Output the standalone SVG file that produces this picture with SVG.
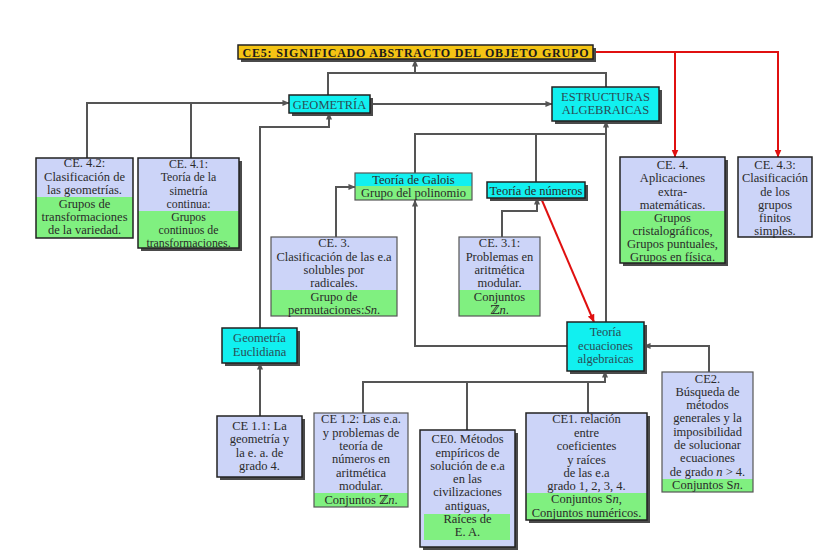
<svg xmlns="http://www.w3.org/2000/svg" width="831" height="554" viewBox="0 0 831 554">
<defs>
<style>
.bl{fill:#ccd4f8}
.gr{fill:#80f080}
.cy{fill:#11f0f0}
.go{fill:#f4c414}
.sh{fill:#4a4a4a}
.bd{fill:none;stroke:#222;stroke-width:1.5}
.bg{fill:none;stroke:#555;stroke-width:1.2}
.t{font-family:"Liberation Serif","DejaVu Serif",serif;font-size:12.5px;fill:#2a2a2a;text-anchor:middle}
.s{font-size:11.8px}
.tt{font-family:"Liberation Serif","DejaVu Serif",serif;font-size:12px;font-weight:bold;fill:#1a1a1a;text-anchor:middle}
.ct{fill:#2a4d55}
.k{fill:none;stroke:#555;stroke-width:2}
.r{fill:none;stroke:#e01010;stroke-width:2}
</style>
<marker id="ah" viewBox="0 0 8 8" refX="7.5" refY="4" markerWidth="7" markerHeight="7" markerUnits="userSpaceOnUse" orient="auto"><path d="M0,0.5 L8,4 L0,7.5 z" fill="#555"/></marker>
<marker id="ar" viewBox="0 0 8 8" refX="7.5" refY="4" markerWidth="8" markerHeight="8" markerUnits="userSpaceOnUse" orient="auto"><path d="M0,0.5 L8,4 L0,7.5 z" fill="#e01010"/></marker>
</defs>
<rect width="831" height="554" fill="#fff"/>

<g id="connectors">
<path class="k" d="M328,95 V73 H606 V87"/>
<path class="k" d="M415,73 V60" marker-end="url(#ah)"/>
<path class="k" d="M87,158 V103 H289" marker-end="url(#ah)"/>
<path class="k" d="M191,158 V103"/>
<path class="k" d="M370,104 H552" marker-end="url(#ah)"/>
<path class="k" d="M260,328 V127 H329 V113" marker-end="url(#ah)"/>
<path class="k" d="M260,416 V363" marker-end="url(#ah)"/>
<path class="k" d="M363,413 V382 H605 V371" marker-end="url(#ah)"/>
<path class="k" d="M467,430 V382"/>
<path class="k" d="M588,413 V382"/>
<path class="k" d="M567,346 H415 V200" marker-end="url(#ah)"/>
<path class="k" d="M709,372 V346 H644" marker-end="url(#ah)"/>
<path class="k" d="M606,322 V121" marker-end="url(#ah)"/>
<path class="k" d="M415,173 V134 H606"/>
<path class="k" d="M536,182 V134"/>
<path class="k" d="M336,237 V187 H355" marker-end="url(#ah)"/>
<path class="k" d="M502,237 V211 H537 V198" marker-end="url(#ah)"/>
<path class="r" d="M593,52 H778 V157" marker-end="url(#ar)"/>
<path class="r" d="M675,52 V157" marker-end="url(#ar)"/>
<path class="r" d="M541,198 L594,322" marker-end="url(#ar)"/>
</g>

<g id="ce5">
<rect class="sh" x="241" y="48" width="355" height="14"/>
<rect class="go" x="238" y="45" width="355" height="14"/>
<rect class="bd" x="238" y="45" width="355" height="14"/>
<text class="tt" x="415.5" y="56.5" textLength="346" lengthAdjust="spacing">CE5: SIGNIFICADO ABSTRACTO DEL OBJETO GRUPO</text>
</g>

<g id="geometria">
<rect class="sh" x="292" y="98" width="81" height="18"/>
<rect class="cy" x="289" y="95" width="81" height="18"/>
<rect class="bd" x="289" y="95" width="81" height="18"/>
<text class="t ct" x="329.5" y="108.5">GEOMETRÍA</text>
</g>

<g id="estructuras">
<rect class="sh" x="555" y="90" width="107" height="34"/>
<rect class="cy" x="552" y="87" width="107" height="34"/>
<rect class="bd" x="552" y="87" width="107" height="34"/>
<text class="t ct" x="605.5" y="100.5">ESTRUCTURAS</text>
<text class="t ct" x="605.5" y="113.5">ALGEBRAICAS</text>
</g>

<g id="ce42">
<rect class="bl" x="36" y="158" width="97" height="80"/>
<rect class="gr" x="36" y="197" width="97" height="41"/>
<rect class="bd" x="36" y="158" width="97" height="80"/>
<text class="t" x="84.5" y="167">CE. 4.2:</text>
<text class="t" x="84.5" y="180.5">Clasificación de</text>
<text class="t" x="84.5" y="194">las geometrías.</text>
<text class="t" x="84.5" y="207.5">Grupos de</text>
<text class="t" x="84.5" y="221">transformaciones</text>
<text class="t" x="84.5" y="234">de la variedad.</text>
</g>

<g id="ce41">
<rect class="sh" x="141" y="161" width="101" height="90"/>
<rect class="bl" x="138" y="158" width="101" height="90"/>
<rect class="gr" x="138" y="211" width="101" height="37"/>
<rect class="bd" x="138" y="158" width="101" height="90"/>
<text class="t s" x="188.5" y="168">CE. 4.1:</text>
<text class="t s" x="188.5" y="181">Teoría de la</text>
<text class="t s" x="188.5" y="194.5">simetría</text>
<text class="t s" x="188.5" y="207.5">continua:</text>
<text class="t s" x="188.5" y="221">Grupos</text>
<text class="t s" x="188.5" y="234">continuos de</text>
<text class="t s" x="188.5" y="246.5">transformaciones.</text>
</g>

<g id="galois">
<rect class="cy" x="355" y="173" width="117" height="13"/>
<rect class="gr" x="355" y="186" width="117" height="14"/>
<rect class="bg" x="355" y="173" width="117" height="27"/>
<text class="t" x="413.5" y="183.5">Teoría de Galois</text>
<text class="t" x="413.5" y="197">Grupo del polinomio</text>
</g>

<g id="numeros">
<rect class="sh" x="490" y="185" width="98" height="16"/>
<rect class="cy" x="487" y="182" width="98" height="16"/>
<rect class="bd" x="487" y="182" width="98" height="16"/>
<text class="t" x="536" y="194.5">Teoría de números</text>
</g>

<g id="ce3">
<rect class="bl" x="271" y="237" width="126" height="79"/>
<rect class="gr" x="271" y="290" width="126" height="26"/>
<rect class="bg" x="271" y="237" width="126" height="79"/>
<text class="t" x="334" y="247">CE. 3.</text>
<text class="t" x="334" y="260.5">Clasificación de las e.a</text>
<text class="t" x="334" y="274">solubles por</text>
<text class="t" x="334" y="287">radicales.</text>
<text class="t" x="334" y="301">Grupo de</text>
<text class="t" x="334" y="314">permutaciones:<tspan font-style="italic">Sn</tspan>.</text>
</g>

<g id="ce31">
<rect class="bl" x="459" y="237" width="81" height="79"/>
<rect class="gr" x="459" y="290" width="81" height="26"/>
<rect class="bg" x="459" y="237" width="81" height="79"/>
<text class="t" x="499.5" y="247">CE. 3.1:</text>
<text class="t" x="499.5" y="260.5">Problemas en</text>
<text class="t" x="499.5" y="274">aritmética</text>
<text class="t" x="499.5" y="287">modular.</text>
<text class="t" x="499.5" y="301">Conjuntos</text>
<text class="t" x="499.5" y="314">ℤ<tspan font-style="italic">n</tspan>.</text>
</g>

<g id="ce4">
<rect class="sh" x="623" y="160" width="105" height="106"/>
<rect class="bl" x="620" y="157" width="105" height="106"/>
<rect class="gr" x="620" y="211" width="105" height="52"/>
<rect class="bd" x="620" y="157" width="105" height="106"/>
<text class="t" x="672.5" y="169">CE. 4.</text>
<text class="t" x="672.5" y="182">Aplicaciones</text>
<text class="t" x="672.5" y="196">extra-</text>
<text class="t" x="672.5" y="209">matemáticas.</text>
<text class="t" x="672.5" y="222">Grupos</text>
<text class="t" x="672.5" y="235">cristalográficos,</text>
<text class="t" x="672.5" y="248">Grupos puntuales,</text>
<text class="t" x="672.5" y="261">Grupos en física.</text>
</g>

<g id="ce43">
<rect class="bl" x="738" y="157" width="74" height="80"/>
<rect class="bd" x="738" y="157" width="74" height="80"/>
<text class="t" x="775" y="169">CE. 4.3:</text>
<text class="t" x="775" y="182">Clasificación</text>
<text class="t" x="775" y="196">de los</text>
<text class="t" x="775" y="209">grupos</text>
<text class="t" x="775" y="222">finitos</text>
<text class="t" x="775" y="235">simples.</text>
</g>

<g id="euclidiana">
<rect class="sh" x="225" y="331" width="75" height="35"/>
<rect class="cy" x="222" y="328" width="75" height="35"/>
<rect class="bd" x="222" y="328" width="75" height="35"/>
<text class="t ct" x="259.5" y="342">Geometría</text>
<text class="t ct" x="259.5" y="356">Euclidiana</text>
</g>

<g id="ecuaciones">
<rect class="sh" x="570" y="325" width="77" height="49"/>
<rect class="cy" x="567" y="322" width="77" height="49"/>
<rect class="bd" x="567" y="322" width="77" height="49"/>
<text class="t ct" x="605.5" y="336">Teoría</text>
<text class="t ct" x="605.5" y="350">ecuaciones</text>
<text class="t ct" x="605.5" y="363">algebraicas</text>
</g>

<g id="ce11">
<rect class="sh" x="220" y="419" width="85" height="61"/>
<rect class="bl" x="217" y="416" width="85" height="61"/>
<rect class="bd" x="217" y="416" width="85" height="61"/>
<text class="t" x="259.5" y="430">CE 1.1: La</text>
<text class="t" x="259.5" y="443">geometría y</text>
<text class="t" x="259.5" y="457">la e. a. de</text>
<text class="t" x="259.5" y="470">grado 4.</text>
</g>

<g id="ce12">
<rect class="bl" x="314" y="413" width="94" height="94"/>
<rect class="gr" x="314" y="493" width="94" height="14"/>
<rect class="bg" x="314" y="413" width="94" height="94"/>
<text class="t" x="361" y="423">CE 1.2: Las e.a.</text>
<text class="t" x="361" y="437">y problemas de</text>
<text class="t" x="361" y="450">teoría de</text>
<text class="t" x="361" y="463">números en</text>
<text class="t" x="361" y="477">aritmética</text>
<text class="t" x="361" y="490">modular.</text>
<text class="t" x="361" y="504">Conjuntos ℤ<tspan font-style="italic">n</tspan>.</text>
</g>

<g id="ce0">
<rect class="sh" x="423" y="433" width="95" height="117"/>
<rect class="bl" x="420" y="430" width="95" height="117"/>
<rect class="gr" x="424" y="514" width="86" height="26"/>
<rect class="bd" x="420" y="430" width="95" height="117"/>
<text class="t" x="467.5" y="443">CE0. Métodos</text>
<text class="t" x="467.5" y="456.5">empíricos de</text>
<text class="t" x="467.5" y="469.5">solución de e.a</text>
<text class="t" x="467.5" y="483">en las</text>
<text class="t" x="467.5" y="496">civilizaciones</text>
<text class="t" x="467.5" y="509.5">antiguas,</text>
<text class="t" x="467.5" y="523">Raíces de</text>
<text class="t" x="467.5" y="536">E. A.</text>
</g>

<g id="ce1">
<rect class="sh" x="529" y="416" width="121" height="107"/>
<rect class="bl" x="526" y="413" width="121" height="107"/>
<rect class="gr" x="526" y="493" width="121" height="27"/>
<rect class="bd" x="526" y="413" width="121" height="107"/>
<text class="t" x="586.5" y="423">CE1. relación</text>
<text class="t" x="586.5" y="437">entre</text>
<text class="t" x="586.5" y="450">coeficientes</text>
<text class="t" x="586.5" y="464">y raíces</text>
<text class="t" x="586.5" y="477">de las e.a</text>
<text class="t" x="586.5" y="490">grado 1, 2, 3, 4.</text>
<text class="t" x="586.5" y="503">Conjuntos S<tspan font-style="italic">n</tspan>,</text>
<text class="t" x="586.5" y="517">Conjuntos numéricos.</text>
</g>

<g id="ce2">
<rect class="bl" x="662" y="372" width="91" height="120"/>
<rect class="gr" x="662" y="479" width="91" height="13"/>
<rect class="bg" x="662" y="372" width="91" height="120"/>
<text class="t" x="707.5" y="383">CE2.</text>
<text class="t" x="707.5" y="396">Búsqueda de</text>
<text class="t" x="707.5" y="409">métodos</text>
<text class="t" x="707.5" y="422">generales y la</text>
<text class="t" x="707.5" y="436">imposibilidad</text>
<text class="t" x="707.5" y="449">de solucionar</text>
<text class="t" x="707.5" y="462">ecuaciones</text>
<text class="t" x="707.5" y="476">de grado <tspan font-style="italic">n</tspan> &gt; 4.</text>
<text class="t" x="707.5" y="489">Conjuntos S<tspan font-style="italic">n</tspan>.</text>
</g>
</svg>
